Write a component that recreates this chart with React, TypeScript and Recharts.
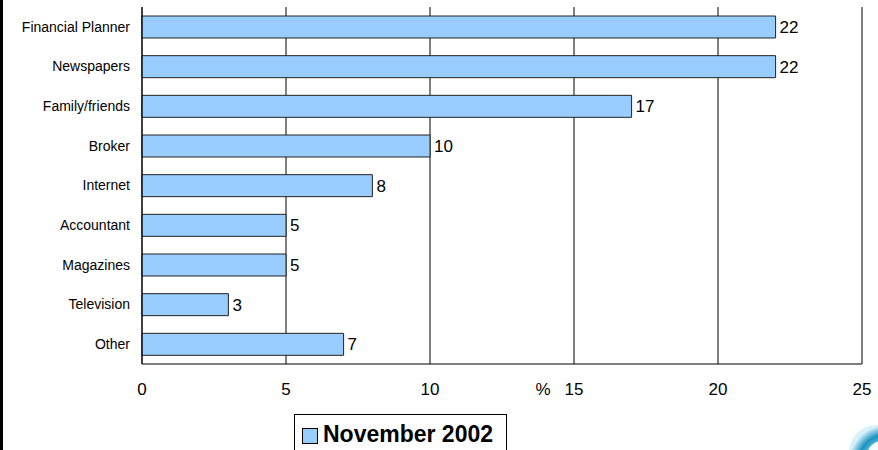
import { BarChart, Bar, XAxis, YAxis, CartesianGrid, LabelList, Legend, Label } from "recharts";

const categories = [
  "Financial Planner",
  "Newspapers",
  "Family/friends",
  "Broker",
  "Internet",
  "Accountant",
  "Magazines",
  "Television",
  "Other",
];
const november2002 = [22, 22, 17, 10, 8, 5, 5, 3, 7];
const xTicks = [0, 5, 10, 15, 20, 25];

const data = categories.map((name, i) => ({ name, value: november2002[i] }));

const font = "'Liberation Sans', Arial, sans-serif";

function LegendBox() {
  return (
    <div
      style={{
        border: "1px solid #000",
        width: 213,
        height: 44,
        boxSizing: "border-box",
        display: "flex",
        alignItems: "flex-start",
        paddingLeft: 7,
        paddingTop: 8,
        background: "#fff",
        fontFamily: font,
      }}
    >
      <span
        style={{
          width: 14,
          height: 14,
          flex: "none",
          background: "#99CCFF",
          border: "1px solid #000",
          marginTop: 5,
          marginRight: 5,
        }}
      />
      <span style={{ fontWeight: "bold", fontSize: 23, lineHeight: "23px", whiteSpace: "nowrap" }}>November 2002</span>
    </div>
  );
}

export default function App() {
  return (
    <div style={{ position: "absolute", left: 0, top: 0, width: 878, height: 450, overflow: "hidden", background: "#fff" }}>
      <div style={{ position: "absolute", left: 0, top: 0, width: 3, height: 450, background: "#000" }} />
      <BarChart
        width={878}
        height={450}
        data={data}
        layout="vertical"
        margin={{ top: 7, right: 16, bottom: 0, left: 0 }}
        barSize={22}
      >
        <CartesianGrid horizontal={false} stroke="#000" strokeOpacity={1} />
        <XAxis
          type="number"
          domain={[0, 25]}
          ticks={xTicks}
          height={86}
          tickLine={false}
          tickSize={0}
          tickMargin={19}
          axisLine={{ stroke: "#000" }}
          tick={{ fill: "#000", fontSize: 17, fontFamily: font }}
        >
          <Label value="%" position="insideTop" offset={19} dx={41} style={{ fill: "#000", fontSize: 17, fontFamily: font }} />
        </XAxis>
        <YAxis
          type="category"
          dataKey="name"
          width={142}
          tickLine={false}
          tickSize={0}
          tickMargin={12}
          axisLine={{ stroke: "#000" }}
          tick={{ fill: "#000", fontSize: 14, fontFamily: font }}
        />
        <Legend
          layout="horizontal"
          verticalAlign="middle"
          wrapperStyle={{ left: 294, top: 414, width: 213 }}
          content={() => <LegendBox />}
        />
        <Bar dataKey="value" fill="#99CCFF" stroke="#222" strokeWidth={1} isAnimationActive={false}>
          <LabelList dataKey="value" position="right" offset={4} style={{ fill: "#000", fontSize: 17, fontFamily: font }} />
        </Bar>
      </BarChart>
      <svg style={{ position: "absolute", left: 836, top: 412 }} width={42} height={38}>
        <defs>
          <radialGradient id="logo" cx="0.7" cy="0.7" r="0.7">
            <stop offset="0%" stopColor="#e8fbff" />
            <stop offset="45%" stopColor="#8fdcf0" />
            <stop offset="75%" stopColor="#1a92c0" />
            <stop offset="100%" stopColor="#d8f2fa" />
          </radialGradient>
        </defs>
        <circle cx={40} cy={40} r={27} fill="url(#logo)" />
        <circle cx={46} cy={44} r={15} fill="#f4fdff" />
      </svg>
    </div>
  );
}
